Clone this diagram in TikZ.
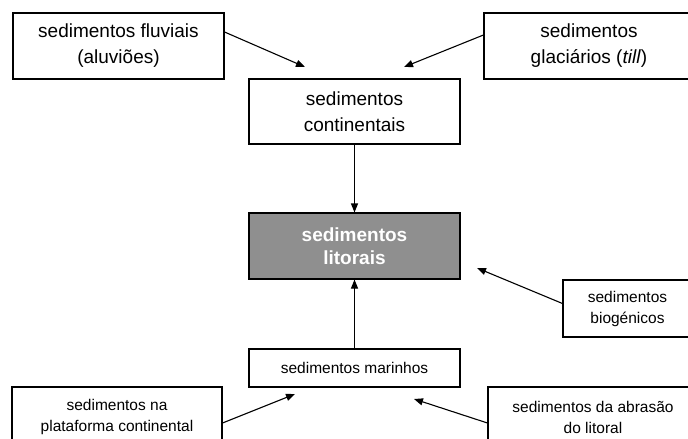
\documentclass[tikz,border=0pt]{standalone}
\usepackage{fontspec}
\setmainfont{Liberation Sans}
\usetikzlibrary{arrows.meta}
\begin{document}
\begin{tikzpicture}[x=1pt,y=-1pt,line width=1.1pt,
  caixa/.style={draw,inner sep=0pt,align=center,font=\fontsize{19}{26}\selectfont},
  caixinha/.style={draw,inner sep=0pt,align=center,font=\fontsize{15.5}{21}\selectfont},
  seta/.style={-{Triangle[length=9pt,width=7pt]}}]
\useasboundingbox (0,0) rectangle (688,439);
\node[caixa,minimum width=211pt,minimum height=66pt](fluv)at(118.5,46){sedimentos fluviais\\(aluviões)};
\node[caixa,minimum width=210pt,minimum height=66pt](glac)at(589,46){sedimentos\\glaciários (\textit{till})};
\node[caixa,minimum width=211pt,minimum height=65pt](cont)at(354.5,111.5){sedimentos\\continentais};
\node[caixa,minimum width=211pt,minimum height=66pt,fill=black!44,text=white,font=\fontsize{19}{23}\selectfont\bfseries](lit)at(354.5,246){sedimentos\\litorais};
\node[caixinha,minimum width=129pt,minimum height=57pt](bio)at(627.5,308.5){sedimentos\\biogénicos};
\node[caixinha,minimum width=211pt,minimum height=38pt](mar)at(354.5,368){sedimentos marinhos};
\node[caixinha,minimum width=210pt,minimum height=60pt](plat)at(117,417){sedimentos na\\plataforma continental};
\node[caixinha,minimum width=210pt,minimum height=60pt](abr)at(593,417){sedimentos da abrasão\\do litoral};
\coordinate(fluvtip)at(305,67);
\coordinate(glactip)at(404,67);
\coordinate(biotip)at(477,268);
\coordinate(plattip)at(295,394);
\coordinate(abrtip)at(414,399);
\draw[seta]([yshift=14pt]fluv.east)--(fluvtip);
\draw[seta]([yshift=11pt]glac.west)--(glactip);
\draw[seta](cont.south)--(lit.north);
\draw[seta](mar.north)--(lit.south);
\draw[seta]([yshift=5pt]bio.west)--(biotip);
\draw[seta]([yshift=-6pt]plat.east)--(plattip);
\draw[seta]([yshift=-6pt]abr.west)--(abrtip);
\end{tikzpicture}
\end{document}
